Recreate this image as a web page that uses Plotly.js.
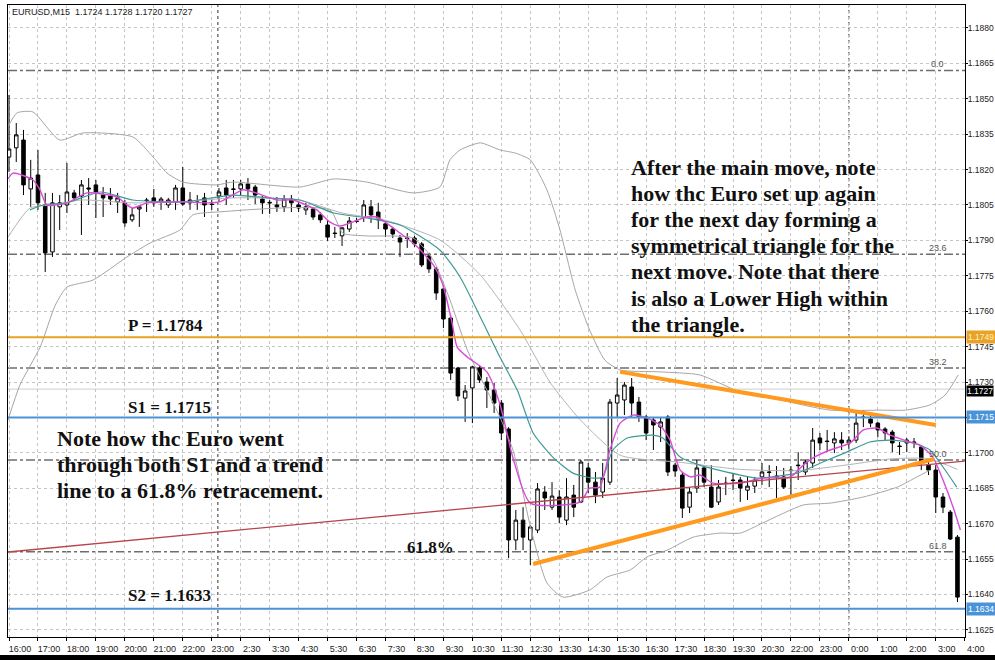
<!DOCTYPE html>
<html><head><meta charset="utf-8">
<script src="https://cdn.plot.ly/plotly-3.0.1.min.js"></script>
<style>html,body{margin:0;padding:0;background:#fff;}#chart{width:995px;height:660px;}</style>
</head><body><div id="chart"></div>
<script>
// ---- candle data (EURUSD M15), bar index = position ----
const openP = [1.18253,1.18292,1.18325,1.18118,1.18177,1.18050,1.17851,1.18042,1.18050,1.18101,
1.18088,1.18122,1.18135,1.18092,1.18088,1.18063,1.18059,1.17987,1.18033,1.18071,
1.18080,1.18063,1.18050,1.18063,1.18122,1.18071,1.18063,1.18080,1.18054,1.18088,
1.18122,1.18118,1.18118,1.18139,1.18126,1.18075,1.18061,1.18050,1.18042,1.18075,
1.18050,1.18029,1.18033,1.18008,1.17965,1.17931,1.17919,1.17948,1.17982,1.17999,
1.18042,1.18020,1.17970,1.17948,1.17910,1.17910,1.17910,1.17885,1.17834,1.17779,
1.17694,1.17571,1.17359,1.17232,1.17275,1.17359,1.17300,1.17266,1.17211,1.17101,
1.16631,1.16715,1.16631,1.16673,1.16834,1.16770,1.16813,1.16715,1.16821,1.16792,
1.16936,1.16876,1.16834,1.16876,1.17211,1.17224,1.17279,1.17215,1.17152,1.17139,
1.17109,1.17152,1.16948,1.16906,1.16770,1.16851,1.16936,1.16855,1.16792,1.16872,
1.16885,1.16885,1.16842,1.16859,1.16898,1.16919,1.16902,1.16898,1.16927,1.16948,
1.16919,1.16957,1.17063,1.17050,1.17042,1.17054,1.17042,1.17054,1.17152,1.17143,
1.17126,1.17101,1.17088,1.17029,1.17042,1.17046,1.17025,1.16948,1.16927,1.16813,
1.16749,1.16643];
const highP = [1.18516,1.18397,1.18368,1.18241,1.18283,1.18101,1.18101,1.18092,1.18228,1.18114,
1.18156,1.18164,1.18156,1.18126,1.18122,1.18101,1.18071,1.18037,1.18050,1.18080,
1.18118,1.18084,1.18080,1.18135,1.18211,1.18105,1.18092,1.18101,1.18071,1.18122,
1.18156,1.18156,1.18156,1.18164,1.18135,1.18088,1.18071,1.18084,1.18092,1.18092,
1.18063,1.18059,1.18037,1.18020,1.17987,1.17957,1.17957,1.17999,1.17995,1.18071,
1.18071,1.18059,1.17978,1.17957,1.17923,1.17931,1.17919,1.17893,1.17847,1.17787,
1.17711,1.17584,1.17364,1.17287,1.17368,1.17372,1.17321,1.17296,1.17224,1.17109,
1.16758,1.16770,1.16694,1.16872,1.16859,1.16876,1.16842,1.16893,1.16864,1.16970,
1.16957,1.16919,1.16957,1.17228,1.17317,1.17300,1.17317,1.17237,1.17160,1.17152,
1.17152,1.17160,1.16957,1.16919,1.16855,1.16970,1.16940,1.16948,1.16885,1.16898,
1.16914,1.16898,1.16898,1.16898,1.16957,1.16948,1.16944,1.16936,1.16944,1.17003,
1.16970,1.17105,1.17084,1.17097,1.17088,1.17088,1.17067,1.17169,1.17181,1.17160,
1.17131,1.17109,1.17097,1.17046,1.17063,1.17063,1.17033,1.16961,1.16948,1.16830,
1.16758,1.16652];
const lowP = [1.18190,1.18232,1.18092,1.18042,1.18029,1.17766,1.17830,1.17944,1.18016,1.18071,
1.17923,1.18050,1.17995,1.17999,1.18050,1.18016,1.17957,1.17978,1.17957,1.18020,
1.18042,1.18029,1.18037,1.18029,1.18046,1.18029,1.18029,1.17999,1.18029,1.18063,
1.18050,1.18080,1.18088,1.18071,1.18054,1.18012,1.18012,1.18020,1.18020,1.18020,
1.18020,1.18008,1.17987,1.17974,1.17898,1.17910,1.17876,1.17936,1.17974,1.17978,
1.17974,1.17948,1.17914,1.17910,1.17830,1.17868,1.17872,1.17787,1.17762,1.17648,
1.17529,1.17309,1.17220,1.17131,1.17126,1.17296,1.17190,1.17169,1.17054,1.16554,
1.16588,1.16588,1.16525,1.16660,1.16758,1.16758,1.16703,1.16694,1.16728,1.16787,
1.16830,1.16787,1.16809,1.16864,1.17152,1.17160,1.17152,1.17131,1.17054,1.17012,
1.17046,1.16902,1.16898,1.16724,1.16745,1.16830,1.16855,1.16766,1.16779,1.16821,
1.16842,1.16792,1.16800,1.16830,1.16864,1.16855,1.16809,1.16847,1.16821,1.16885,
1.16906,1.16936,1.17012,1.17003,1.16999,1.17012,1.17020,1.17042,1.17109,1.17109,
1.17067,1.17054,1.17003,1.16991,1.17003,1.17020,1.16927,1.16906,1.16745,1.16745,
1.16631,1.16368];
const closeP = [1.18287,1.18347,1.18135,1.18164,1.18059,1.17847,1.18059,1.18059,1.18105,1.18080,
1.18135,1.18118,1.18105,1.18080,1.18075,1.18080,1.17974,1.18008,1.18042,1.18069,
1.18059,1.18075,1.18071,1.18122,1.18054,1.18059,1.18061,1.18050,1.18052,1.18105,
1.18092,1.18116,1.18139,1.18118,1.18092,1.18059,1.18059,1.18042,1.18075,1.18059,
1.18037,1.18042,1.17999,1.17987,1.17914,1.17929,1.17953,1.17982,1.17980,1.18050,
1.18008,1.17987,1.17948,1.17927,1.17893,1.17908,1.17885,1.17796,1.17779,1.17677,
1.17567,1.17338,1.17241,1.17262,1.17364,1.17309,1.17266,1.17211,1.17084,1.16631,
1.16715,1.16643,1.16686,1.16847,1.16809,1.16817,1.16728,1.16813,1.16770,1.16961,
1.16876,1.16821,1.16893,1.17215,1.17245,1.17287,1.17211,1.17152,1.17084,1.17118,
1.17131,1.16919,1.16923,1.16766,1.16834,1.16936,1.16876,1.16770,1.16855,1.16870,
1.16883,1.16851,1.16859,1.16885,1.16919,1.16917,1.16898,1.16855,1.16925,1.16946,
1.16961,1.17054,1.17042,1.17048,1.17059,1.17042,1.17054,1.17126,1.17150,1.17126,
1.17097,1.17084,1.17042,1.17027,1.17054,1.17044,1.16961,1.16927,1.16813,1.16770,
1.16635,1.16389];

// ---- x-axis tick labels (every 4 bars) ----
const tickLabels = ["16:00","17:00","18:00","19:00","20:00","21:00","22:00","23:00","2:30","3:30",
"4:30","5:30","6:30","7:30","8:30","9:30","10:30","11:30","12:30","13:30","14:30","15:30",
"16:30","17:30","18:30","19:30","20:30","22:00","23:00","0:00","1:00","2:00","3:00","4:00"];

// ---- y-axis price labels ----
const priceTicks = [1.1625,1.1640,1.1655,1.1670,1.1685,1.1700,1.1715,1.1730,1.1745,1.1760,
1.1775,1.1790,1.1805,1.1820,1.1835,1.1850,1.1865,1.1880];
const priceTickText = ["1.1625","1.1640","1.1655","1.1670","1.1685","1.1700","","1.1730","1.1745","1.1760",
"1.1775","1.1790","1.1805","1.1820","1.1835","1.1850","1.1865","1.1880"];

// ---- indicators (bar position, price) ----
const fastMaX = [-0.14,0.55,3.31,4.28,5.25,8.0,10.8,14.9,16.3,17.1,19.1,24.0,27.3,29.1,32.3,33.7,37.0,39.2,42.5,44.3,45.7,49.4,50.8,54.0,56.4,58.6,59.9,61.2,61.9,63.3,66.0,67.8,69.6,72.0,78.9,80.2,81.6,83.0,84.4,86.2,88.1,89.9,91.3,92.7,94.1,95.4,97.2,101.0,104.1,107.9,109.7,111.0,113.4,116.2,118.0,119.9,121.7,124.4,125.8,127.6,129.0,130.4,131.4];
const fastMaY = [1.18160,1.18185,1.18156,1.18114,1.18050,1.18059,1.18101,1.18084,1.18050,1.18037,1.18059,1.18063,1.18059,1.18063,1.18114,1.18105,1.18071,1.18071,1.18029,1.17978,1.17961,1.17999,1.17999,1.17931,1.17872,1.17796,1.17714,1.17550,1.17448,1.17406,1.17343,1.17207,1.16979,1.16787,1.16792,1.16851,1.16855,1.17012,1.17126,1.17160,1.17148,1.17118,1.17054,1.16927,1.16898,1.16906,1.16872,1.16872,1.16893,1.16898,1.16948,1.16978,1.17012,1.17042,1.17097,1.17105,1.17075,1.17046,1.17033,1.16982,1.16885,1.16770,1.16673];
const slowMaX = [2.9,4.7,8.0,12.6,17.1,24.0,30.9,35.6,40.2,44.8,49.4,54.0,59.5,62.3,65.5,67.8,70.2,72.4,75.1,77.9,80.7,82.0,83.4,85.4,88.9,90.3,92.7,95.4,101.0,103.3,108.8,112.4,115.7,118.9,121.7,124.9,127.2,129.0,130.9];
const slowMaY = [1.18029,1.18050,1.18059,1.18105,1.18071,1.18063,1.18092,1.18080,1.18071,1.18016,1.17995,1.17965,1.17859,1.17745,1.17550,1.17406,1.17266,1.17084,1.16982,1.16914,1.16893,1.16898,1.17012,1.17063,1.17075,1.17063,1.16982,1.16948,1.16906,1.16893,1.16914,1.16961,1.17003,1.17046,1.17054,1.17042,1.17012,1.16940,1.16855];
const midBandX = [-0.14,2.9,6.0,10.0,17.0,24.0,31.0,40.0,46.0,52.0,59.5,65.1,70.6,74.7,78.9,84.4,92.7,101.0,109.0,116.0,122.0,127.0,131.0];
const midBandY = [1.17914,1.18037,1.18050,1.18071,1.18059,1.18063,1.18080,1.18071,1.18016,1.17985,1.17902,1.17753,1.17520,1.17300,1.17140,1.16990,1.16960,1.16930,1.16925,1.16950,1.16975,1.16975,1.16930];
const upperBandX = [-0.14,1.1,3.3,7.0,10.2,17.1,19.9,21.8,24.0,28.7,30.9,40.2,44.8,49.4,55.8,59.5,60.9,62.3,65.1,67.8,69.9,72.0,74.3,76.1,78.2,80.2,82.3,84.4,89.9,95.4,101.0,106.5,113.4,120.3,123.8,127.2,129.3,131.1];
const upperBandY = [1.18381,1.18440,1.18444,1.18325,1.18355,1.18338,1.18253,1.18186,1.18147,1.18135,1.18147,1.18126,1.18160,1.18147,1.18101,1.18126,1.18241,1.18283,1.18313,1.18283,1.18270,1.18241,1.18114,1.17944,1.17690,1.17520,1.17393,1.17351,1.17343,1.17330,1.17258,1.17224,1.17181,1.17181,1.17181,1.17203,1.17245,1.17330];
const lowerBandX = [-0.14,1.5,4.3,6.4,8.0,11.6,16.3,19.5,23.6,25.4,28.7,44.3,46.1,49.4,55.8,58.6,60.9,63.3,66.0,67.8,69.6,70.6,72.0,74.3,76.5,80.2,82.6,85.8,88.1,90.9,94.5,98.2,101.0,104.1,109.7,113.4,118.0,122.7,125.4,127.2];
const lowerBandY = [1.17139,1.17287,1.17448,1.17626,1.17702,1.17732,1.17830,1.17889,1.17944,1.18008,1.18020,1.18029,1.17931,1.17919,1.17910,1.17817,1.17648,1.17436,1.17266,1.17152,1.17012,1.16885,1.16690,1.16449,1.16389,1.16419,1.16474,1.16504,1.16559,1.16588,1.16643,1.16660,1.16660,1.16703,1.16779,1.16787,1.16813,1.16855,1.16898,1.16927];

// ---- drawn lines ----
const trendLineX = [-0.14, 132.0];
const trendLineY = [1.16580, 1.16965];
const triUpperX = [84.4, 128.0];
const triUpperY = [1.17343, 1.17118];
const triLowerX = [72.4, 127.8];
const triLowerY = [1.16529, 1.16974];

// ---- horizontal levels ----
const pivotLevel = 1.1749;
const s1Level = 1.1715;
const s2Level = 1.1634;
const bidLevel = 1.1727;
const fibNames = ["0.0","23.6","38.2","50.0","61.8"];
const fibLevels = [1.18620, 1.17841, 1.17359, 1.16970, 1.16581];
const daySeparators = [28.85, 116.0];

const idx = openP.map((_, i) => i);
const tickVals = tickLabels.map((_, i) => i * 4);

// pixel -> paper helpers for layout placement
const PL = 8, PT = 5, PW = 957, PH = 632;
const px = x => (x - PL) / PW;
const py = y => (PT + PH - y) / PH;

const traces = [];
function line(x, y, color, width) {
  traces.push({type:'scatter', mode:'lines', x:x, y:y, hoverinfo:'skip', showlegend:false,
    line:{color:color, width:width, shape:'spline', smoothing:0.6}});
}
line(upperBandX, upperBandY, '#a6a6a6', 1);
line(lowerBandX, lowerBandY, '#a6a6a6', 1);
line(midBandX, midBandY, '#b4b4b4', 1);
line(slowMaX, slowMaY, '#3f9a96', 1.2);
line(fastMaX, fastMaY, '#d94bd6', 1.4);

traces.push({type:'scatter', mode:'lines', x:trendLineX, y:trendLineY, hoverinfo:'skip', showlegend:false,
  line:{color:'#b8444c', width:1.3}});

traces.push({type:'candlestick', x:idx, open:openP, high:highP, low:lowP, close:closeP,
  hoverinfo:'skip', showlegend:false, whiskerwidth:0,
  increasing:{line:{color:'#000', width:1}, fillcolor:'#ffffff'},
  decreasing:{line:{color:'#000', width:1}, fillcolor:'#000000'}});

traces.push({type:'scatter', mode:'lines', x:triUpperX, y:triUpperY, hoverinfo:'skip', showlegend:false,
  line:{color:'#ff9a1e', width:4}});
traces.push({type:'scatter', mode:'lines', x:triLowerX, y:triLowerY, hoverinfo:'skip', showlegend:false,
  line:{color:'#ff9a1e', width:4}});

const shapes = [];
function hline(yv, color, width, dash, layer) {
  shapes.push({type:'line', xref:'paper', x0:0, x1:1, yref:'y', y0:yv, y1:yv,
    line:{color:color, width:width, dash:dash||'solid'}, layer:layer||'above'});
}
fibLevels.forEach(v => hline(v, '#6e6e6e', 1.5, 'dashdot', 'below'));
hline(bidLevel, '#cfcfcf', 1, 'solid', 'below');
hline(pivotLevel, '#e8a227', 2);
hline(s1Level, '#4a93d8', 2);
hline(s2Level, '#4a93d8', 2);
daySeparators.forEach(v => shapes.push({type:'line', xref:'x', x0:v, x1:v, yref:'paper', y0:0, y1:1,
  line:{color:'#333', width:1, dash:'dot'}, layer:'below'}));
// black scan strip at bottom of picture
shapes.push({type:'rect', xref:'paper', yref:'paper', x0:-0.02, x1:1.05, y0:py(655), y1:py(662),
  fillcolor:'#000', line:{width:0}});

const ann = [];
const serif = 'Liberation Serif, Times New Roman, serif';
function note(text, x, y, size) {
  ann.push({xref:'paper', yref:'paper', x:px(x), y:py(y), xanchor:'left', yanchor:'middle',
    text:'<b>'+text+'</b>', showarrow:false, font:{family:serif, size:size, color:'#111'}});
}
note('P = 1.1784', 126, 325, 17);
note('S1 = 1.1715', 126, 407, 17);
note('S2 = 1.1633', 126, 595, 17);
note('61.8%', 405, 547, 17);
['Note how thc Euro went','through both S1 and a trend','line to a 61.8% retracement.']
  .forEach((t, i) => note(t, 55, 438 + i * 26, 22));
['After the main move, note','how thc Euro set up again','for the next day forming a',
 'symmetrical triangle for the','next move. Note that there','is also a Lower High within','the triangle.']
  .forEach((t, i) => note(t, 629, 167 + i * 26.2, 22));

fibNames.forEach((n, i) => ann.push({xref:'x', yref:'y', x:128.3, y:fibLevels[i], xanchor:'center',
  yanchor:'bottom', yshift:-1, text:n, showarrow:false, font:{family:'Liberation Sans, Arial', size:9, color:'#555'}}));

ann.push({xref:'paper', yref:'paper', x:px(10), y:py(12), xanchor:'left', yanchor:'middle', showarrow:false,
  text:'EURUSD,M15  1.1724 1.1728 1.1720 1.1727', font:{family:'Liberation Sans, Arial', size:9, color:'#222'}});

function priceTag(v, bg, fg, shift, pad) {
  ann.push({xref:'paper', yref:'y', x:1, y:v, xanchor:'left', yanchor:'middle', xshift:1, yshift:shift||0,
    text:v.toFixed(4), showarrow:false, bgcolor:bg, borderpad:(pad===undefined?1:pad),
    font:{family:'Liberation Sans, Arial', size:8.5, color:fg}});
}
priceTag(pivotLevel, '#e8a227', '#fff2c0');
priceTag(bidLevel, '#000', '#fff', -2, 0);
priceTag(s1Level, '#4a93d8', '#fff');
priceTag(s2Level, '#4a93d8', '#fff');

const layout = {
  width:995, height:660, paper_bgcolor:'#fff', plot_bgcolor:'#fff',
  margin:{l:8, r:30, t:5, b:23}, showlegend:false, boxgap:0.3,
  xaxis:{range:[-0.14, 132.04], tickmode:'array', tickvals:tickVals, ticktext:tickLabels,
    ticks:'outside', ticklen:3, tickcolor:'#000', ticklabelshift:11,
    tickfont:{family:'Liberation Sans, Arial', size:9, color:'#222'},
    showgrid:true, gridcolor:'#c4c4c4', griddash:'dot', gridwidth:1,
    showline:true, mirror:true, linecolor:'#000', linewidth:1, zeroline:false,
    rangeslider:{visible:false}, fixedrange:true},
  yaxis:{side:'right', range:[1.16220, 1.18897], tickmode:'array', tickvals:priceTicks, ticktext:priceTickText,
    ticks:'outside', ticklen:2, tickcolor:'#000', ticklabelstandoff:-2,
    tickfont:{family:'Liberation Sans, Arial', size:8.5, color:'#222'},
    showgrid:true, gridcolor:'#c4c4c4', griddash:'dot', gridwidth:1,
    showline:true, mirror:true, linecolor:'#000', linewidth:1, zeroline:false, fixedrange:true},
  shapes:shapes, annotations:ann
};
Plotly.newPlot('chart', traces, layout, {displayModeBar:false, staticPlot:true});
</script></body></html>
